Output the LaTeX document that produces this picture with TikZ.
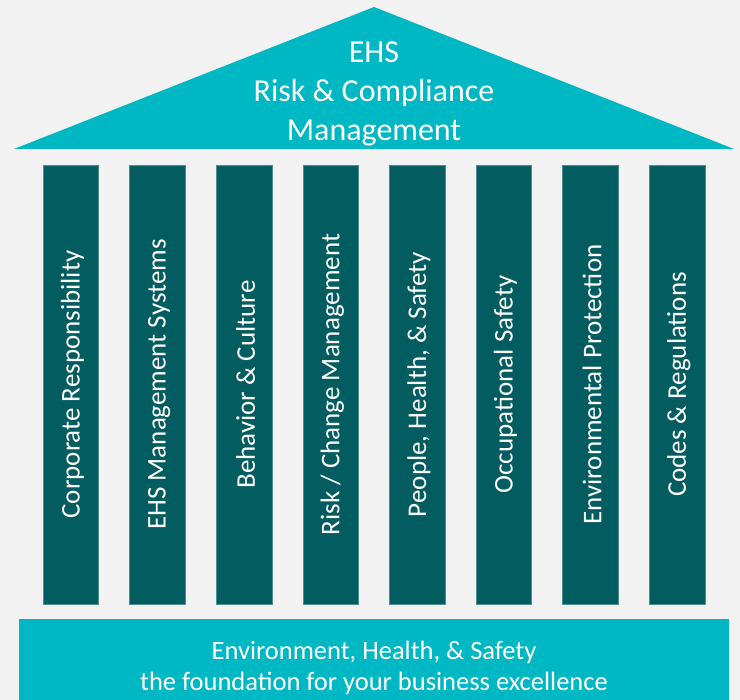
\documentclass[tikz,border=0pt]{standalone}
\usepackage{fontspec}
\setmainfont{Carlito}
\definecolor{bg}{HTML}{F2F2F2}
\definecolor{roof}{HTML}{00B8C4}
\definecolor{col}{HTML}{035C5F}
\begin{document}
\begin{tikzpicture}[x=1pt,y=-1pt,
  pillar/.style={fill=col,draw=col!70!white,line width=0.4pt},
  pillartext/.style={rotate=90,text=white,font=\fontsize{27}{30}\selectfont},
  bigtext/.style={text=white,align=center}]
\fill[bg] (0,0) rectangle (740,700);
\useasboundingbox (0,0) rectangle (740,700);
% roof
\fill[roof] (14,149) -- (374,7) -- (734,149) -- cycle;
\node[bigtext,font=\fontsize{32}{39}\selectfont] (roof) at (374,94) {EHS\\Risk \& Compliance\\Management};
% columns
\foreach \i/\t in {0/{Corporate Responsibility},1/{EHS Management Systems},2/{Behavior \& Culture},3/{Risk / Change Management},4/{People, Health, \& Safety},5/{Occupational Safety},6/{Environmental Protection},7/{Codes \& Regulations}}{
  \pgfmathsetmacro{\xl}{43+86.6*\i}
  \path[pillar] (\xl,165) rectangle ++(55.5,439);
  \node[pillartext] (p\i) at (\xl+29.5,384.5) {\t};
}
% base
\fill[roof] (19,619) rectangle (729,700);
\node[bigtext,font=\fontsize{26.5}{31}\selectfont] (base) at (374,668) {Environment, Health, \& Safety\\the foundation for your business excellence};
\end{tikzpicture}
\end{document}
